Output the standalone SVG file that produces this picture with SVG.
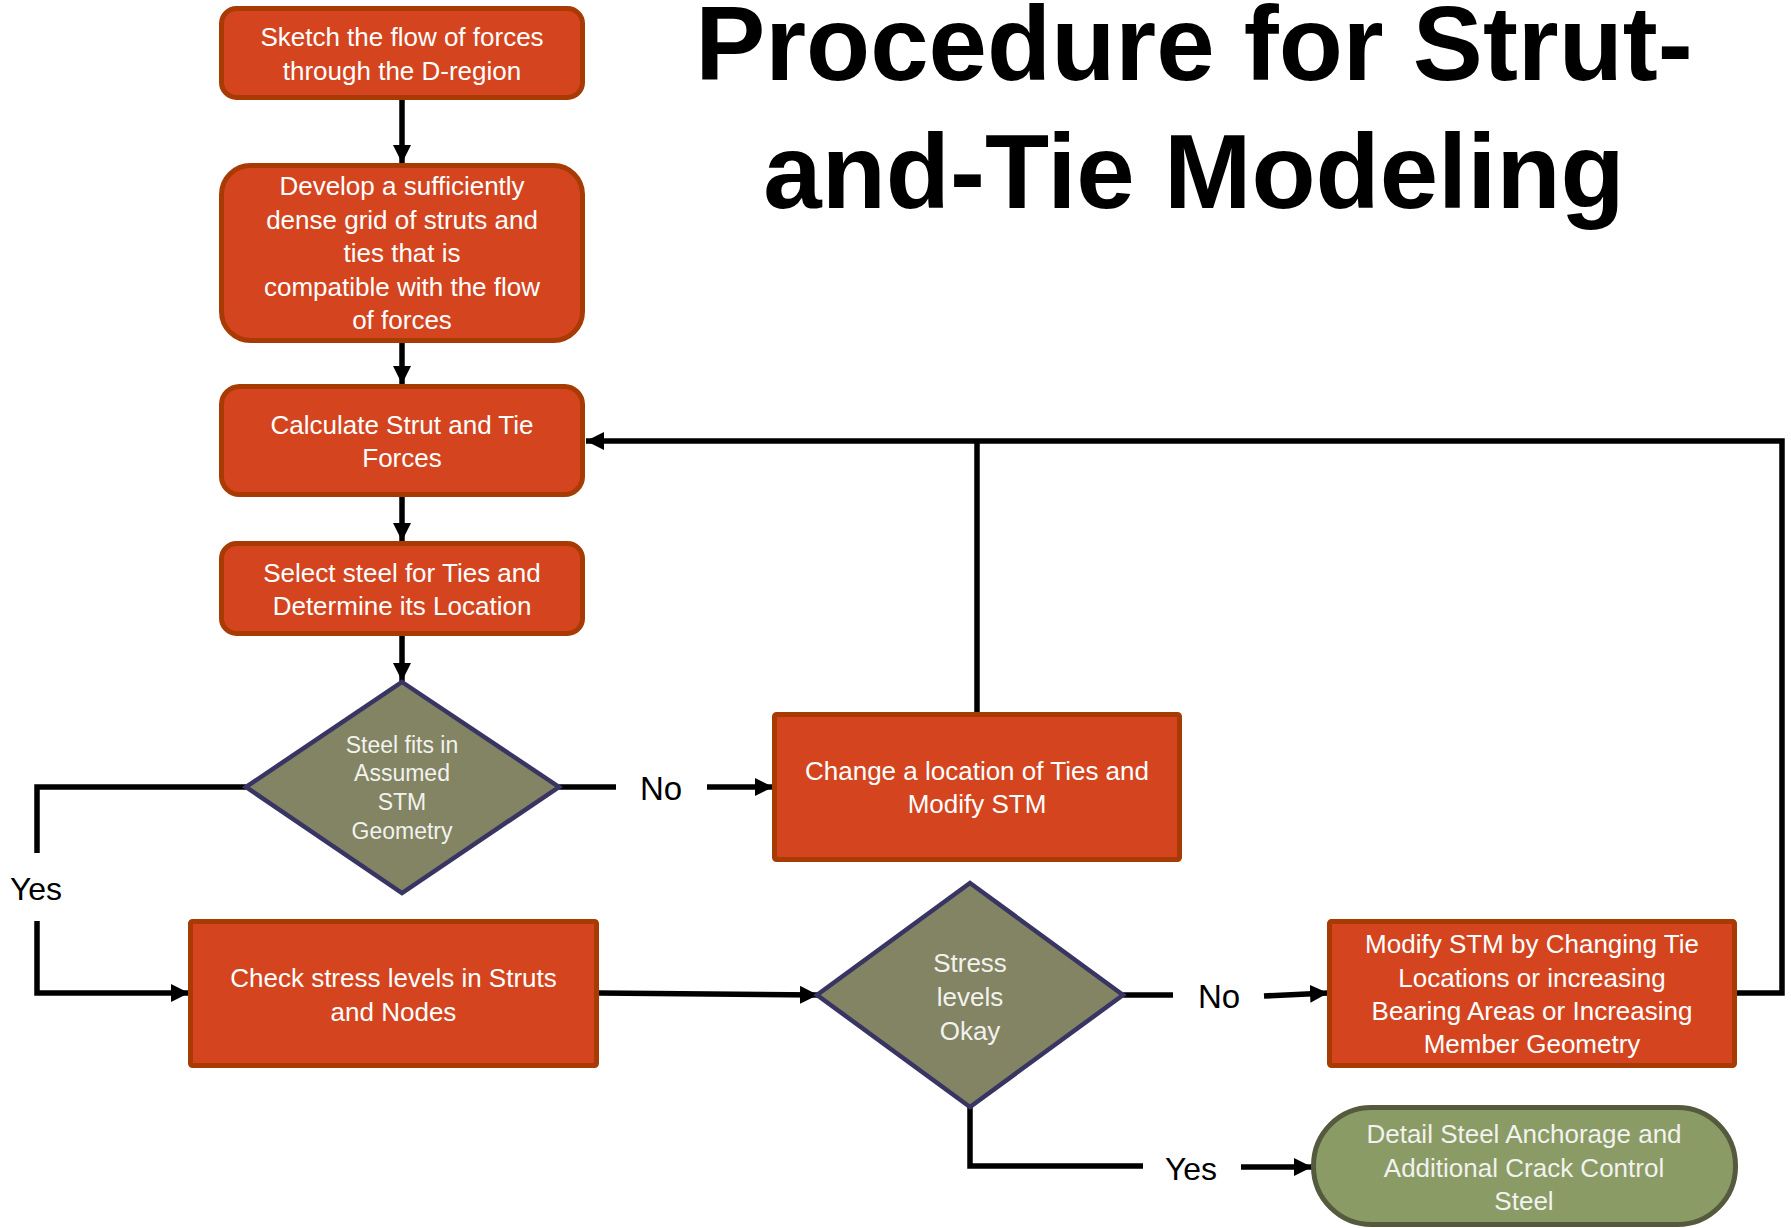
<svg xmlns="http://www.w3.org/2000/svg" width="1791" height="1228" viewBox="0 0 1791 1228">
<style>
.box{fill:#d4451f;stroke:#a83a04;stroke-width:5}
.dia{fill:#828463;stroke:#393563;stroke-width:4.5;stroke-linejoin:miter}
.term{fill:#8a9b65;stroke:#555a3e;stroke-width:5}
.t{font-family:"Liberation Sans",Arial,sans-serif;font-size:26px;fill:#ffffff;text-anchor:middle}
.td{font-family:"Liberation Sans",Arial,sans-serif;fill:#f2f2ee;text-anchor:middle}
.lbl{font-family:"Liberation Sans",Arial,sans-serif;font-size:33px;fill:#000;text-anchor:middle}
.title{font-family:"Liberation Sans",Arial,sans-serif;font-size:105px;font-weight:bold;fill:#000;text-anchor:middle}
.c{fill:none;stroke:#000;stroke-width:5.5;stroke-linejoin:miter}
</style>
<defs>
<marker id="ah" markerUnits="userSpaceOnUse" markerWidth="20" markerHeight="20" refX="18" refY="9" orient="auto">
<path d="M0,0 L18,9 L0,18 Z" fill="#000"/>
</marker>
</defs>
<rect width="1791" height="1228" fill="#ffffff"/>
<g id="title">
<text class="title" x="1194" y="80">Procedure for Strut-</text>
<text class="title" x="1194" y="208">and-Tie Modeling</text>
</g>
<g id="connectors">
<path class="c" d="M402,100 V163" marker-end="url(#ah)"/>
<path class="c" d="M402,343 V384" marker-end="url(#ah)"/>
<path class="c" d="M402,497 V541" marker-end="url(#ah)"/>
<path class="c" d="M402,636 V681" marker-end="url(#ah)"/>
<path class="c" d="M246,787 H37 V853"/>
<path class="c" d="M37,921 V993 H189" marker-end="url(#ah)"/>
<path class="c" d="M559,787 H616"/>
<path class="c" d="M707,787 H773" marker-end="url(#ah)"/>
<path class="c" d="M977,712 V441"/>
<path class="c" d="M1737,993 H1782 V441 H586" marker-end="url(#ah)"/>
<path class="c" d="M599,993 L818,995" marker-end="url(#ah)"/>
<path class="c" d="M1123,995 H1173"/>
<path class="c" d="M1264,996 L1328,993" marker-end="url(#ah)"/>
<path class="c" d="M970,1107 V1166 H1143"/>
<path class="c" d="M1241,1167 H1312" marker-end="url(#ah)"/>
</g>
<g id="lbl-yes1"><text class="lbl" x="36" y="900" style="font-size:32px">Yes</text></g>
<g id="lbl-no1"><text class="lbl" x="661" y="800">No</text></g>
<g id="lbl-no2"><text class="lbl" x="1219" y="1008">No</text></g>
<g id="lbl-yes2"><text class="lbl" x="1191" y="1180" style="font-size:32px">Yes</text></g>
<g id="n1">
<rect class="box" x="221.5" y="8.5" width="361" height="89" rx="15" ry="15"/>
<text class="t" x="402" y="46">Sketch the flow of forces</text>
<text class="t" x="402" y="80">through the D-region</text>
</g>
<g id="n2">
<rect class="box" x="221.5" y="165.5" width="361" height="175" rx="29" ry="29"/>
<text class="t" x="402" y="195">Develop a sufficiently</text>
<text class="t" x="402" y="229">dense grid of struts and</text>
<text class="t" x="402" y="262">ties that is</text>
<text class="t" x="402" y="296">compatible with the flow</text>
<text class="t" x="402" y="329">of forces</text>
</g>
<g id="n3">
<rect class="box" x="221.5" y="386.5" width="361" height="108" rx="18" ry="18"/>
<text class="t" x="402" y="434">Calculate Strut and Tie</text>
<text class="t" x="402" y="467">Forces</text>
</g>
<g id="n4">
<rect class="box" x="221.5" y="543.5" width="361" height="90" rx="15" ry="15"/>
<text class="t" x="402" y="582">Select steel for Ties and</text>
<text class="t" x="402" y="615">Determine its Location</text>
</g>
<g id="d1">
<polygon class="dia" points="402,682 559,787 402,893 246,787"/>
<text class="td" x="402" y="753" font-size="23">Steel fits in</text>
<text class="td" x="402" y="781" font-size="23">Assumed</text>
<text class="td" x="402" y="810" font-size="23">STM</text>
<text class="td" x="402" y="839" font-size="23">Geometry</text>
</g>
<g id="n6">
<rect class="box" x="774.5" y="714.5" width="405" height="145" rx="2" ry="2"/>
<text class="t" x="977" y="780">Change a location of Ties and</text>
<text class="t" x="977" y="813">Modify STM</text>
</g>
<g id="n5">
<rect class="box" x="190.5" y="921.5" width="406" height="144" rx="2" ry="2"/>
<text class="t" x="393.5" y="987">Check stress levels in Struts</text>
<text class="t" x="393.5" y="1021">and Nodes</text>
</g>
<g id="d2">
<polygon class="dia" points="970,883 1123,995 970,1107 817,995"/>
<text class="td" x="970" y="972" font-size="26">Stress</text>
<text class="td" x="970" y="1006" font-size="26">levels</text>
<text class="td" x="970" y="1040" font-size="26">Okay</text>
</g>
<g id="n7">
<rect class="box" x="1329.5" y="921.5" width="405" height="144" rx="2" ry="2"/>
<text class="t" x="1532" y="953">Modify STM by Changing Tie</text>
<text class="t" x="1532" y="987">Locations or increasing</text>
<text class="t" x="1532" y="1020">Bearing Areas or Increasing</text>
<text class="t" x="1532" y="1053">Member Geometry</text>
</g>
<g id="n8">
<rect class="term" x="1313.5" y="1107.5" width="422" height="117" rx="58" ry="58"/>
<text class="td" x="1524" y="1143" font-size="26">Detail Steel Anchorage and</text>
<text class="td" x="1524" y="1177" font-size="26">Additional Crack Control</text>
<text class="td" x="1524" y="1210" font-size="26">Steel</text>
</g>
</svg>
